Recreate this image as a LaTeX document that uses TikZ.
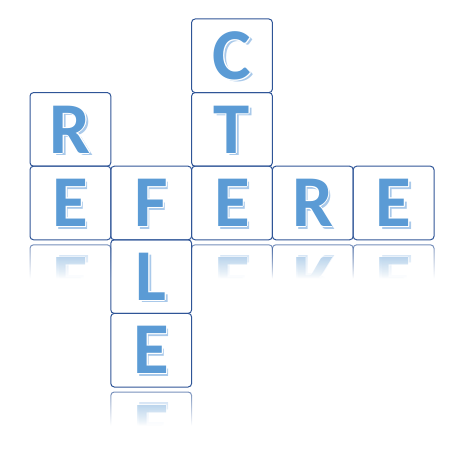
\documentclass[tikz,border=0pt]{standalone}
\usepackage{fontspec}
\setmainfont{Carlito}
\usetikzlibrary{fadings}
\definecolor{tileline}{HTML}{2F5597}
\definecolor{letterblue}{HTML}{5B9BD5}
\definecolor{lettershadow}{HTML}{A9C9EA}
\tikzfading[name=reflfade, top color=transparent!30, bottom color=transparent!100]
\newcommand\lettfont{\fontsize{73}{73}\selectfont\bfseries}
\tikzset{
  tilebox/.style={draw=tileline, line width=1pt, rounded corners=3.5pt,
    minimum width=80.8pt, minimum height=73.6pt, inner sep=0pt, outer sep=0pt,
    font=\lettfont, text=letterblue},
  letshadow/.style={inner sep=0pt, font=\lettfont, text=lettershadow},
  lethalo/.style={inner sep=0pt, font=\lettfont, text=white},
}
\newcommand\tilecontent[4]{% name, x, y, letter
  \node[letshadow] (#1s) at (#2+2.4,#3-2.4) {#4};
  \foreach \dx/\dy in {1/0,-1/0,0/1,0/-1,0.7/0.7,0.7/-0.7,-0.7/0.7,-0.7/-0.7}
    \node[lethalo] at (#2+\dx,#3+\dy) {#4};
  \node[tilebox] (#1) at (#2,#3) {#4};
}
\newcommand\mytile[4]{% name, col, row, letter
  \pgfmathsetmacro\tx{30+80.8*(#2+0.5)}
  \pgfmathsetmacro\ty{-(19+73.6*(#3+0.5))}
  \tilecontent{#1}{\tx}{\ty}{#4}
}
\newcommand\myrefl[4]{% name, col, row, letter
  \pgfmathsetmacro\tx{30+80.8*(#2+0.5)}
  \pgfmathsetmacro\ty{-(19+73.6*(#3+0.5))}
  \pgfmathsetmacro\ta{-(19+73.6*(#3+1))-2.5}
  \pgfmathsetmacro\tr{\ty-\ta}
  \begin{scope}
    \path[scope fading=reflfade, fit fading=true] (\tx-43,\ta) rectangle (\tx+43,\ta-36);
    \clip (\tx-43,\ta) rectangle (\tx+43,\ta-36);
    \begin{scope}[shift={(0,\ta)}, yscale=-1, transform shape]
      \tilecontent{#1}{\tx}{\tr}{#4}
    \end{scope}
  \end{scope}
}
\begin{document}
\begin{tikzpicture}[x=1pt,y=1pt]
\useasboundingbox (0,0) rectangle (461,-452);
\myrefl{rE1}{0}{2}{E}
\myrefl{rE3}{2}{2}{E}
\myrefl{rR2}{3}{2}{R}
\myrefl{rE4}{4}{2}{E}
\myrefl{rE5}{1}{4}{E}
\mytile{C}{2}{0}{C}
\mytile{T}{2}{1}{T}
\mytile{R1}{0}{1}{R}
\mytile{E1}{0}{2}{E}
\mytile{F}{1}{2}{F}
\mytile{E3}{2}{2}{E}
\mytile{R2}{3}{2}{R}
\mytile{E4}{4}{2}{E}
\mytile{L}{1}{3}{L}
\mytile{E5}{1}{4}{E}
\end{tikzpicture}
\end{document}
